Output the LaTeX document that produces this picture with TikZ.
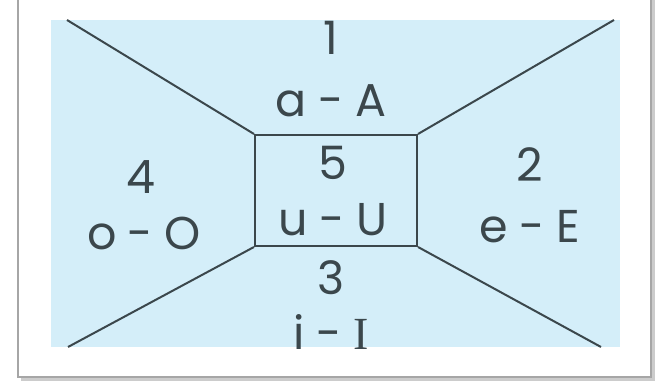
\documentclass[tikz,border=0pt]{standalone}
\usepackage{fontspec}
\setmainfont{Poppins}
\newfontfamily\slabfont{Liberation Serif}
\usepackage{tikz}
\usetikzlibrary{positioning}
\definecolor{paleblue}{HTML}{D4EEF9}
\definecolor{inkgrey}{HTML}{3B474C}
\newcommand{\dashsep}{\hspace{0.25em}-\hspace{0.25em}}
\tikzset{
  vowel/.style={font=\fontsize{23}{27}\selectfont, text=inkgrey, inner sep=0pt},
  edge/.style={inkgrey, line width=1pt}
}
\begin{document}
\begin{tikzpicture}[x=0.5pt, y=-0.5pt]
\useasboundingbox (0,0) rectangle (662,383);
% frame with shadow
\fill[gray!40] (21,-5) rectangle (655,381);
\fill[white] (18,-5) rectangle (651,377);
\draw[gray!70, line width=0.8pt] (18,-5) -- (18,377) -- (651,377) -- (651,-5);
\fill[paleblue] (51,20) rectangle (620,347);
% centre box and corners
\node[draw=inkgrey, line width=1pt, minimum width=81pt, minimum height=55.5pt, inner sep=0pt] (ctr) at (336,190.5) {};
\coordinate (tl) at (67,20);
\coordinate (tr) at (614,20);
\coordinate (bl) at (68,347);
\coordinate (br) at (601,347);
\draw[edge] (ctr.north west) -- (tl);
\draw[edge] (ctr.north east) -- (tr);
\draw[edge] (ctr.south west) -- (bl);
\draw[edge] (ctr.south east) -- (br);
% labels
\node[vowel] (n1) at (331,38) {1};
\node[vowel] (v1) at (331,101) {a\dashsep A};
\node[vowel] (n5) at (333,163) {5};
\node[vowel] (v5) at (333,220) {u\dashsep U};
\node[vowel] (n3) at (331,278) {3};
\node[vowel] (v3) at (331,332) {i\dashsep{\slabfont I}};
\node[vowel] (n4) at (141,177) {4};
\node[vowel] (v4) at (144,233) {o\dashsep O};
\node[vowel] (n2) at (530,165) {2};
\node[vowel] (v2) at (530,227) {e\dashsep E};
\end{tikzpicture}
\end{document}
